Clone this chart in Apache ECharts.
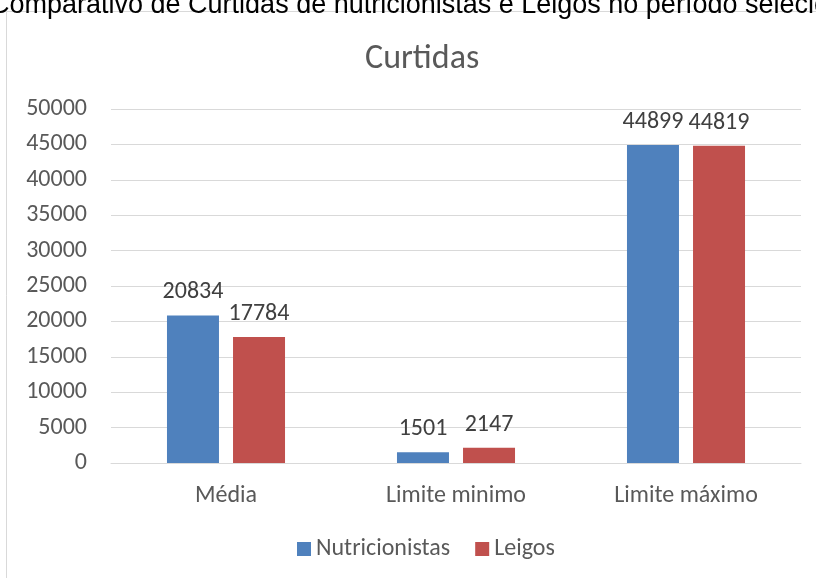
<!DOCTYPE html>
<html>
<head>
<meta charset="utf-8">
<script src="https://cdn.jsdelivr.net/npm/echarts@6/dist/echarts.min.js"></script>
<style>
  html, body { margin: 0; padding: 0; background: #fff; }
  #chart { width: 816px; height: 578px; }
</style>
</head>
<body>
<div id="chart"></div>
<script>
// dados do gráfico
const categorias = ['Média', 'Limite minimo', 'Limite máximo'];
const nutricionistas = [20834, 1501, 44899];
const leigos = [17784, 2147, 44819];
const serieNomes = ['Nutricionistas', 'Leigos'];

const chart = echarts.init(document.getElementById('chart'));
const fonte = 'Carlito, Calibri, "Open Sans", "DejaVu Sans", sans-serif';

const option = {
  animation: false,
  textStyle: { fontFamily: fonte },
  graphic: [
    {
      type: 'rect',
      shape: { x: 6.5, y: 11.5, width: 900, height: 700 },
      style: { fill: '#fff', stroke: '#d9d9d9', lineWidth: 1 },
      z: -10
    },
    {
      type: 'text',
      left: -10,
      top: -8,
      style: {
        text: 'Comparativo de Curtidas de nutricionistas e Leigos no período selecionado',
        font: '27px "Liberation Sans", Arial, sans-serif',
        fill: '#000'
      }
    }
  ],
  title: {
    text: 'Curtidas',
    left: 360,
    top: 37,
    textStyle: { fontSize: 34, fontWeight: 'normal', color: '#595959', fontFamily: fonte }
  },
  legend: {
    bottom: 12,
    left: 292,
    itemWidth: 14,
    itemHeight: 14,
    itemGap: 25,
    icon: 'rect',
    textStyle: { fontSize: 24, color: '#595959', fontFamily: fonte },
    data: serieNomes
  },
  grid: { left: 111, right: 15, top: 109, bottom: 115 },
  xAxis: {
    type: 'category',
    data: categorias,
    axisTick: { show: false },
    axisLine: { lineStyle: { color: '#d9d9d9' } },
    axisLabel: { fontSize: 24, color: '#595959', margin: 21, fontFamily: fonte }
  },
  yAxis: {
    type: 'value',
    min: 0,
    max: 50000,
    interval: 5000,
    axisLine: { show: false },
    axisTick: { show: false },
    splitLine: { lineStyle: { color: '#d9d9d9', width: 1 } },
    axisLabel: { fontSize: 24, color: '#595959', margin: 24, fontFamily: fonte, formatter: v => String(v) }
  },
  series: [
    {
      name: serieNomes[0],
      type: 'bar',
      data: nutricionistas,
      barWidth: 52,
      barGap: '27%',
      itemStyle: { color: '#4f81bd' },
      label: { show: true, position: 'top', fontSize: 24, color: '#404040', distance: 11, fontFamily: fonte }
    },
    {
      name: serieNomes[1],
      type: 'bar',
      data: leigos,
      barWidth: 52,
      itemStyle: { color: '#c0504d' },
      label: { show: true, position: 'top', fontSize: 24, color: '#404040', distance: 11, fontFamily: fonte }
    }
  ]
};

chart.setOption(option);
</script>
</body>
</html>
